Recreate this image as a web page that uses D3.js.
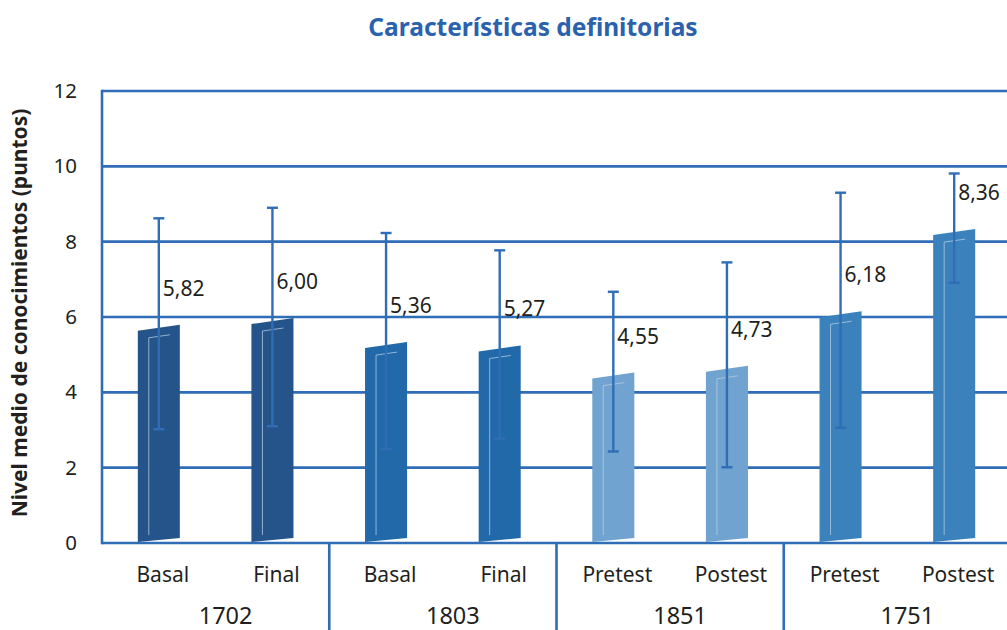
<!DOCTYPE html>
<html>
<head>
<meta charset="utf-8">
<script src="https://cdn.jsdelivr.net/npm/d3@7"></script>
<style>
  body { margin: 0; background: #fff; }
  svg text { font-family: "Noto Sans", "Open Sans", sans-serif; fill: #231f20; }
</style>
</head>
<body>
<div id="chart"></div>
<script>
const groups = ["1702", "1803", "1851", "1751"];
const categories = ["Basal", "Final", "Basal", "Final", "Pretest", "Postest", "Pretest", "Postest"];
const groupOf = ["1702", "1702", "1803", "1803", "1851", "1851", "1751", "1751"];
const values = [5.82, 6.00, 5.36, 5.27, 4.55, 4.73, 6.18, 8.36];
const errors = [2.8, 2.9, 2.87, 2.5, 2.12, 2.72, 3.12, 1.45];
const yTicks = [0, 2, 4, 6, 8, 10, 12];

const width = 1007, height = 630;
const plotLeft = 102, plotRight = 1011, plotTop = 91, plotBottom = 543;
const blue = "#2f6db6";
const barColor = { "1702": "#24548a", "1803": "#2169a8", "1851": "#70a3cf", "1751": "#3b82bc" };

const svg = d3.select("#chart").append("svg")
    .attr("width", width)
    .attr("height", height)
    .attr("viewBox", [0, 0, width, height]);

const y = d3.scaleLinear().domain([0, 12]).range([plotBottom, plotTop]);
const x = d3.scaleBand().domain(d3.range(categories.length)).range([plotLeft, plotRight])
    .paddingInner(0.63).paddingOuter(0.315);
const xg = d3.scaleBand().domain(groups).range([plotLeft, plotRight]);

// title
svg.append("text")
    .attr("x", 533).attr("y", 36)
    .attr("text-anchor", "middle")
    .style("font-weight", "bold").style("font-size", "24.5px").style("fill", "#2a62ad")
    .text("Características definitorias");

// y axis title
svg.append("text")
    .attr("transform", "translate(27,313)rotate(-90)")
    .attr("text-anchor", "middle")
    .style("font-weight", "bold").style("font-size", "21px")
    .text("Nivel medio de conocimientos (puntos)");

// grid
svg.append("g").selectAll("line").data(yTicks).join("line")
    .attr("x1", plotLeft).attr("x2", width)
    .attr("y1", d => y(d)).attr("y2", d => y(d))
    .attr("stroke", blue).attr("stroke-width", 2.6);

svg.append("line")
    .attr("x1", plotLeft).attr("x2", plotLeft).attr("y1", plotTop - 1.3).attr("y2", plotBottom + 1.3)
    .attr("stroke", blue).attr("stroke-width", 2.6);

// group separators below the axis
svg.append("g").selectAll("line").data(groups.slice(1)).join("line")
    .attr("x1", d => xg(d)).attr("x2", d => xg(d))
    .attr("y1", plotBottom).attr("y2", height)
    .attr("stroke", blue).attr("stroke-width", 2.6);

// tick labels
svg.append("g").selectAll("text").data(yTicks).join("text")
    .attr("x", 77).attr("y", d => y(d) + 7)
    .attr("text-anchor", "end")
    .style("font-size", "20.5px")
    .text(d => d);

// bars
const bars = svg.append("g").selectAll("g").data(values).join("g");
bars.append("path")
    .attr("fill", (d, i) => barColor[groupOf[i]])
    .attr("d", (d, i) => {
        const x0 = x(i), x1 = x(i) + x.bandwidth();
        const yt = y(d) + 4;
        return `M${x0},${plotBottom - 1}L${x1},${plotBottom - 5}L${x1},${yt - 3}L${x0},${yt + 3}Z`;
    });
bars.append("path")
    .attr("fill", "none")
    .attr("stroke", "#b9cde3").attr("stroke-opacity", 0.75).attr("stroke-width", 1)
    .attr("d", (d, i) => {
        const xi = x(i) + 11, x1 = x(i) + x.bandwidth() - 10;
        const yt = y(d) + 4;
        return `M${xi},${plotBottom - 8}L${xi},${yt + 10}L${x1},${yt + 7}`;
    });

// error bars
const eb = svg.append("g").attr("stroke", blue).attr("stroke-width", 2.4);
values.forEach((v, i) => {
    const cx = x(i) + x.bandwidth() / 2;
    const hi = y(v + errors[i]), lo = y(v - errors[i]);
    eb.append("line").attr("x1", cx).attr("x2", cx).attr("y1", hi).attr("y2", lo);
    eb.append("line").attr("x1", cx - 5.5).attr("x2", cx + 5.5).attr("y1", hi).attr("y2", hi);
    eb.append("line").attr("x1", cx - 5.5).attr("x2", cx + 5.5).attr("y1", lo).attr("y2", lo);
});

// value labels
svg.append("g").selectAll("text").data(values).join("text")
    .attr("x", (d, i) => x(i) + x.bandwidth() / 2 + 4)
    .attr("y", d => y(d) - 28)
    .style("font-size", "21px")
    .text(d => d3.format(".2f")(d).replace(".", ","));

// category labels
svg.append("g").selectAll("text").data(categories).join("text")
    .attr("x", (d, i) => x(i) + x.bandwidth() / 2 + 4)
    .attr("y", 582)
    .attr("text-anchor", "middle")
    .style("font-size", "21px")
    .text(d => d);

// group labels
svg.append("g").selectAll("text").data(groups).join("text")
    .attr("x", d => xg(d) + xg.bandwidth() / 2 + 10)
    .attr("y", 624)
    .attr("text-anchor", "middle")
    .style("font-size", "23.5px")
    .text(d => d);
</script>
</body>
</html>
